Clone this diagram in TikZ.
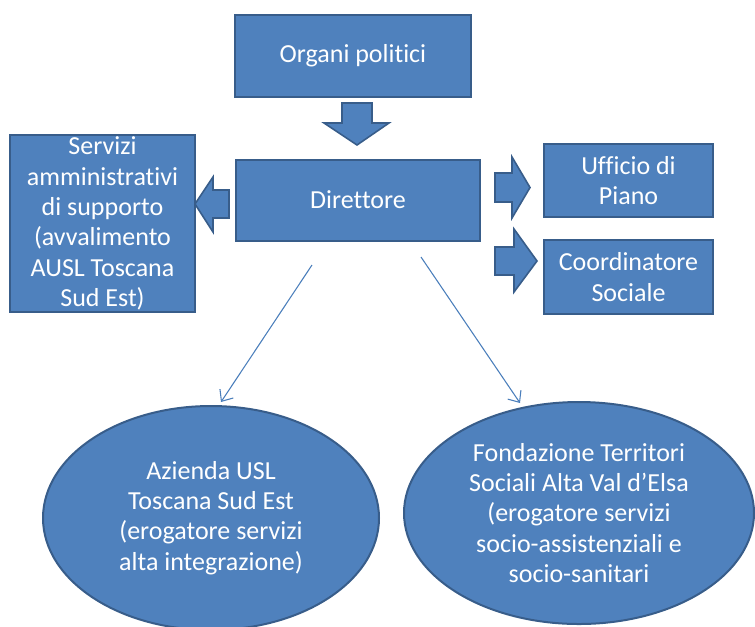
\documentclass[tikz,border=0pt]{standalone}
\usepackage{fontspec}
\setmainfont{Carlito}[RawFeature=-liga]
\usepackage{tikz}
\usetikzlibrary{shapes.geometric}
\usetikzlibrary{arrows.meta}

\definecolor{boxfill}{HTML}{4F81BD}
\definecolor{boxline}{HTML}{385D8A}
\definecolor{thinline}{HTML}{4A7EBB}

\begin{document}
\begin{tikzpicture}[x=0.75pt, y=-0.75pt,
    box/.style={draw=boxline, fill=boxfill, line width=1.5pt, rectangle, text=white,
      align=center, inner sep=0pt, font=\fontsize{19.5}{22.7}\selectfont},
    oval/.style={box, ellipse},
    blockarrow/.style={draw=boxline, fill=boxfill, line width=1.2pt, line join=miter},
    link/.style={draw=thinline, line width=0.8pt, -{Straight Barb[length=7pt,width=12pt]}}]
  \useasboundingbox (0,0) rectangle (755,626);

  \node[box, minimum width=177pt, minimum height=61.5pt] (pol) at (353,56) {Organi politici};
  \node[box, minimum width=183pt, minimum height=60.75pt] (dir) at (358,200) {Direttore};
  \node[box, minimum width=138.75pt, minimum height=132.75pt] (serv) at (102.5,223.5)
    {Servizi\\ amministrativi\\ di supporto\\ (avvalimento\\ AUSL Toscana\\ Sud Est)};
  \node[box, minimum width=126.75pt, minimum height=54.75pt] (uff) at (628.5,180.5) {Ufficio di\\ Piano};
  \node[box, minimum width=126.75pt, minimum height=55.5pt] (coord) at (628.5,277) {Coordinatore\\ Sociale};

  \node[oval, minimum width=252pt, minimum height=168pt] (usl) at (211,518)
    {Azienda USL\\ Toscana Sud Est\\ (erogatore servizi\\ alta integrazione)};
  \node[oval, minimum width=262.5pt, minimum height=166.5pt] (fond) at (579,513)
    {Fondazione Territori\\ Sociali Alta Val d’Elsa\\ (erogatore servizi\\ socio-assistenziali e\\ socio-sanitari};

  % block arrows
  \draw[blockarrow] (342,103) -- (372,103) -- (372,123) -- (389,123) -- (357,145) -- (324,123) -- (342,123) -- cycle;
  \draw[blockarrow] (229,190) -- (213,190) -- (213,177) -- (195,204) -- (213,232) -- (213,218) -- (229,218) -- cycle;
  \draw[blockarrow] (495,173) -- (512,173) -- (512,157) -- (530,187.5) -- (512,218) -- (512,202) -- (495,202) -- cycle;
  \draw[blockarrow] (495,247) -- (514,247) -- (514,229) -- (537,261) -- (514,292) -- (514,275) -- (495,275) -- cycle;

  \coordinate (dl) at (312,265);
  \coordinate (dr) at (421,257);
  \coordinate (ul) at (221,402);
  \coordinate (fr) at (520,403);
  \draw[link] (dl) -- (ul);
  \draw[link] (dr) -- (fr);
\end{tikzpicture}
\end{document}
